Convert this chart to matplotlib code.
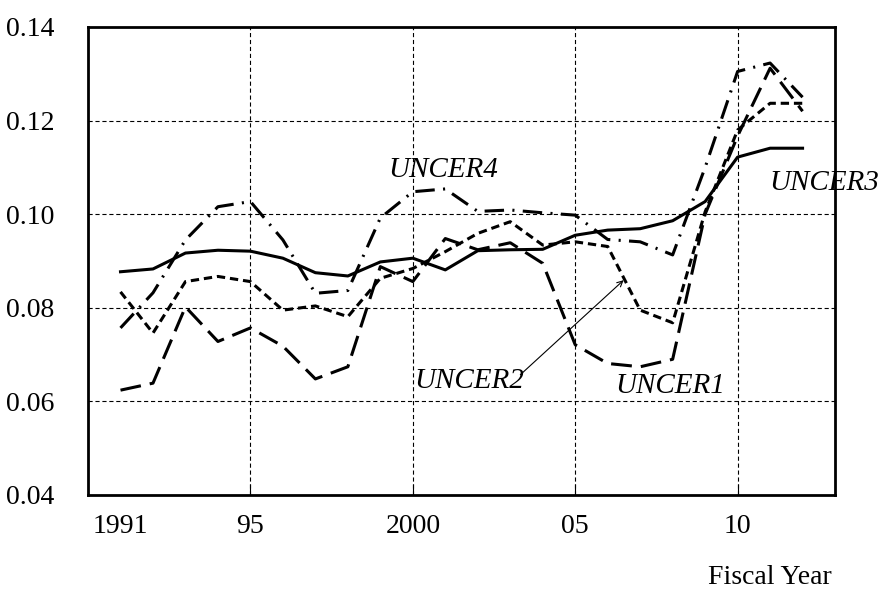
"""UNCER1-4 by fiscal year, 1991-2012 (black & white line chart, serif text)."""
import matplotlib
matplotlib.use("Agg")
import matplotlib.pyplot as plt

plt.rcParams["font.family"] = ["Liberation Serif", "DejaVu Serif"]
plt.rcParams["lines.scale_dashes"] = False

years = list(range(1991, 2013))
uncer1 = [0.0624, 0.0639, 0.0802, 0.0728, 0.0757, 0.0718, 0.0648, 0.0674, 0.0888, 0.0856, 0.0948,
          0.0924, 0.0939, 0.0895, 0.0721, 0.0681, 0.0674, 0.0690, 0.1000, 0.1167, 0.1312, 0.1220]
uncer2 = [0.0834, 0.0746, 0.0856, 0.0867, 0.0856, 0.0795, 0.0804, 0.0781, 0.0863, 0.0884, 0.0920,
          0.0959, 0.0984, 0.0934, 0.0941, 0.0931, 0.0795, 0.0768, 0.1005, 0.1180, 0.1237, 0.1237]
uncer3 = [0.0877, 0.0883, 0.0917, 0.0923, 0.0921, 0.0906, 0.0875, 0.0868, 0.0898, 0.0906, 0.0881,
          0.0922, 0.0924, 0.0925, 0.0955, 0.0966, 0.0969, 0.0986, 0.1027, 0.1122, 0.1141, 0.1141]
uncer4 = [0.0757, 0.0832, 0.0945, 0.1016, 0.1027, 0.0945, 0.0831, 0.0837, 0.0992, 0.1048, 0.1054,
          0.1006, 0.1009, 0.1003, 0.0998, 0.0946, 0.0941, 0.0913, 0.1100, 0.1305, 0.1323, 0.1250]

xticks = [1991, 1995, 2000, 2005, 2010]
xticklabels = ["1991", "95", "2000", "05", "10"]
yticks = [0.04, 0.06, 0.08, 0.10, 0.12, 0.14]

fig = plt.figure(figsize=(8.91, 6.0), dpi=100)
ax = fig.add_axes([0.0988, 0.175, 0.8384, 0.780])

lw = 2.2
ax.plot(years, uncer3, color="black", lw=lw, solid_joinstyle="round")
ax.plot(years, uncer1, color="black", lw=lw, dashes=(15, 6.5))
ax.plot(years, uncer2, color="black", lw=lw, dashes=(6, 3.5))
ax.plot(years, uncer4, color="black", lw=lw, dashes=(14, 6, 1.5, 6))

ax.set_xlim(1990, 2013)
ax.set_ylim(0.04, 0.14)
ax.set_xticks(xticks)
ax.set_xticklabels(xticklabels)
ax.set_yticks(yticks)
ax.set_yticklabels([f"{v:.2f}" for v in yticks])
ax.tick_params(axis="x", direction="in", length=8, width=0.8, pad=14, labelsize=20)
ax.tick_params(axis="y", direction="in", length=0, pad=24, labelsize=20)
ax.grid(True, color="black", linestyle=(0, (3, 2)), linewidth=0.8)

# no tick / gridline for the first (1991) label
first = ax.xaxis.get_major_ticks()[0]
first.tick1line.set_visible(False)
first.gridline.set_visible(False)
# no horizontal gridlines on the frame
for t in ax.yaxis.get_major_ticks():
    if t.get_loc() in (0.04, 0.14):
        t.gridline.set_visible(False)

for s in ax.spines.values():
    s.set_linewidth(2.0)

lab = dict(fontsize=21, style="italic", ha="center", va="center")
ax.text(2000.94, 0.1094, "UNCER4", **lab)
ax.text(2001.74, 0.0644, "UNCER2", **lab)
ax.text(2007.94, 0.0633, "UNCER1", **lab)
ax.text(2012.68, 0.1067, "UNCER3", clip_on=False, **lab)
ax.annotate("", xy=(2006.49, 0.0859), xytext=(2003.31, 0.0657),
            arrowprops=dict(arrowstyle="->", color="black", lw=0.8, shrinkA=0, shrinkB=0))

fig.text(0.934, 0.038, "Fiscal Year", fontsize=20, ha="right", va="center")

fig.savefig("out.png", dpi=100)
